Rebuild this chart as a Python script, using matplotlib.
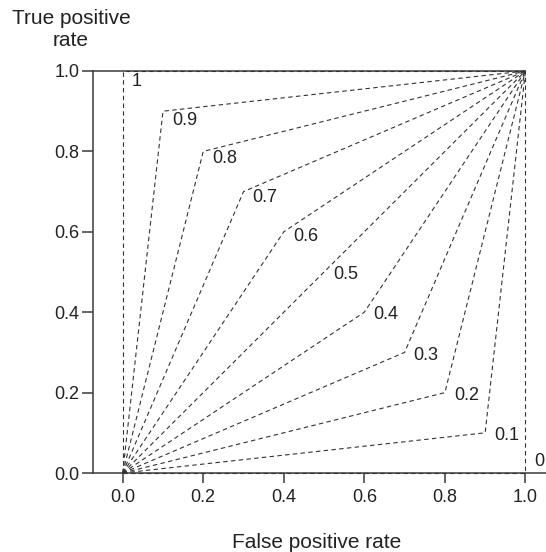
import matplotlib
matplotlib.use("Agg")
import matplotlib.pyplot as plt

# Operating points of each classifier and their labels
labels = ["0", "0.1", "0.2", "0.3", "0.4", "0.5", "0.6", "0.7", "0.8", "0.9", "1"]
fpr = [1.0, 0.9, 0.8, 0.7, 0.6, 0.5, 0.4, 0.3, 0.2, 0.1, 0.0]
tpr = [0.0, 0.1, 0.2, 0.3, 0.4, 0.5, 0.6, 0.7, 0.8, 0.9, 1.0]
ticks = [0.0, 0.2, 0.4, 0.6, 0.8, 1.0]
tick_labels = ["0.0", "0.2", "0.4", "0.6", "0.8", "1.0"]

plt.rcParams["font.family"] = ["Liberation Sans", "DejaVu Sans"]
TEXT = "#222222"
AXIS = "#3a3a3a"


def plot_roc_fan():
    fig = plt.figure(figsize=(5.46, 5.52), dpi=100)
    ax = fig.add_axes([0.1709, 0.1431, 0.829, 0.7283])

    for x, y, lab in zip(fpr, tpr, labels):
        # each curve: origin -> operating point -> (1, 1)
        ax.plot([0, x, 1], [0, y, 1], color="#333333", lw=0.8,
                linestyle=(0, (4, 3)), clip_on=False, zorder=3)
        if y == 0.0:
            dy = 8
        else:
            dy = -2 - max(0.0, y - 0.5) * 11
        ax.annotate(lab, (x, y), xytext=(6.5, dy), textcoords="offset points",
                    ha="left", va="center", fontsize=13, color=TEXT)

    ax.set_xlim(-0.073, 1.051)
    ax.set_ylim(0, 1.0)

    ax.spines["right"].set_visible(False)
    ax.spines["top"].set_bounds(-0.073, 1.0)
    for s in ["left", "bottom", "top"]:
        ax.spines[s].set_color(AXIS)
        ax.spines[s].set_linewidth(1.1)

    ax.set_xticks(ticks)
    ax.set_xticklabels(tick_labels)
    ax.set_yticks(ticks)
    ax.set_yticklabels(tick_labels)
    ax.tick_params(axis="x", direction="out", length=7, width=1.1,
                   color=AXIS, pad=4.5, labelsize=13, labelcolor=TEXT)
    ax.tick_params(axis="y", direction="out", length=8, width=1.1,
                   color=AXIS, pad=2, labelsize=13, labelcolor=TEXT)

    fig.text(71 / 546, 1 - 30 / 552, "True positive\nrate", ha="center",
             va="center", fontsize=15, color=TEXT, linespacing=1.2)
    fig.text(316.5 / 546, 4 / 552, "False positive rate", ha="center",
             va="baseline", fontsize=15, color=TEXT)

    fig.savefig("out.png", dpi=100)


if __name__ == "__main__":
    plot_roc_fan()
